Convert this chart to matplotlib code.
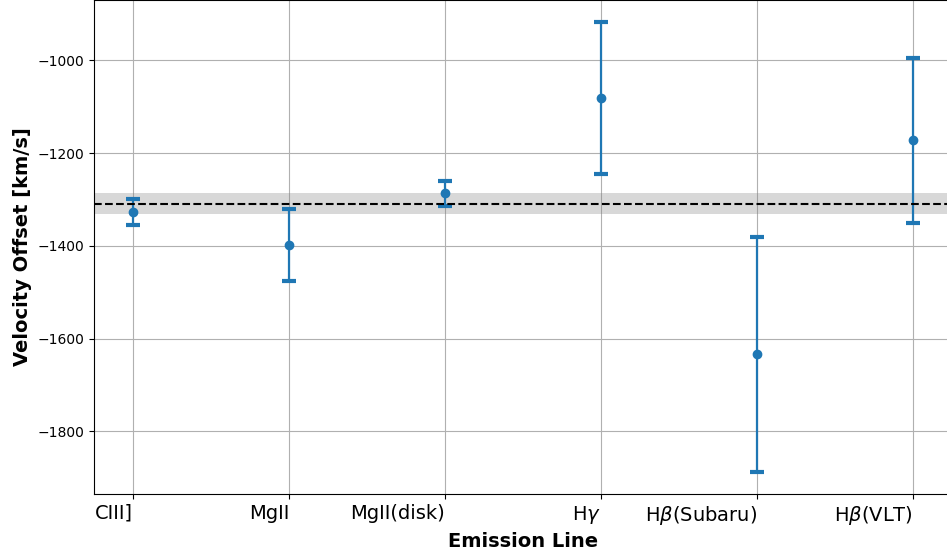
import matplotlib.pyplot as plt
import numpy as np

# emission lines and velocity offsets (km/s)
lines = ['CIII]', 'MgII', 'MgII(disk)', r'H$\gamma$', r'H$\beta$(Subaru)', r'H$\beta$(VLT)']
offsets = [-1328, -1398, -1287, -1082, -1634, -1172]
errors = [28, 77, 26, 164, 253, 178]

mean_offset = -1309
mean_err = 22

fig = plt.figure(figsize=(9.47, 5.54), dpi=100)
ax = fig.add_axes([94/947, 60/554, (952-94)/947, 494/554])

x = np.arange(len(lines))
ax.errorbar(x, offsets, yerr=errors, fmt='o', color='#1f77b4',
            capsize=5, capthick=3, elinewidth=1.6, markersize=6)
ax.axhline(mean_offset, color='k', ls='--', lw=1.5)
ax.axhspan(mean_offset - mean_err, mean_offset + mean_err, color='gray', alpha=0.3, lw=0)

ax.set_xticks(x)
ax.set_xticklabels(lines, fontsize=14, ha='right')
ax.set_xlabel('Emission Line', fontsize=14, fontweight='bold')
ax.set_ylabel('Velocity Offset [km/s]', fontsize=14, fontweight='bold')
ax.grid(True)
ax.set_axisbelow(True)

fig.savefig('out.png', dpi=100)
